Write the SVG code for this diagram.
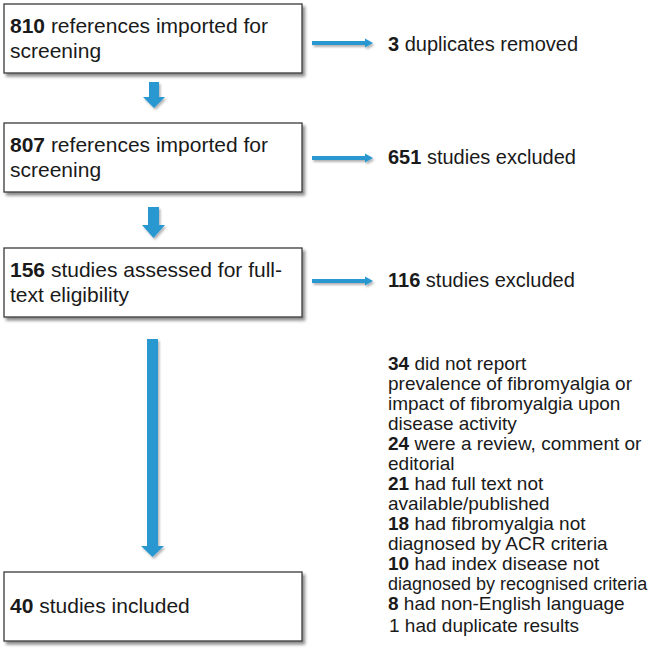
<svg xmlns="http://www.w3.org/2000/svg" width="652" height="653" viewBox="0 0 652 653">
<defs>
<filter id="sh" x="-5%" y="-10%" width="115%" height="130%">
<feDropShadow dx="2.5" dy="3" stdDeviation="1.5" flood-color="#000" flood-opacity="0.45"/>
</filter>
<filter id="ash" x="-30%" y="-30%" width="160%" height="160%">
<feDropShadow dx="1.5" dy="2" stdDeviation="1.2" flood-color="#000" flood-opacity="0.3"/>
</filter>
<style>
.box{fill:#fff;stroke:#3a3a3a;stroke-width:1.3;filter:url(#sh)}
.t{font-family:"Liberation Sans",Arial,sans-serif;font-size:20px;fill:#1a1a1a}
.bt{font-size:21px}
.l{font-family:"Liberation Sans",Arial,sans-serif;font-size:19px;fill:#1a1a1a}
.s{font-size:18px}
.b{font-weight:bold}
.arr{fill:#2a98d0;filter:url(#ash)}
</style>
</defs>
<g id="connectors">
<polygon class="arr" points="149,82 159,82 159,97 165,97 154,108 143,97 149,97"/>
<polygon class="arr" points="148,207 159,207 159,225 165,225 153.5,238 142,225 148,225"/>
<polygon class="arr" points="147,339 158,339 158,546 164,546 152.5,557 141,546 147,546"/>
<polygon class="arr" points="312,41 365,41 365,38.5 373,43 365,47.5 365,45 312,45"/>
<polygon class="arr" points="312,156 365,156 365,153.5 373,158 365,162.5 365,160 312,160"/>
<polygon class="arr" points="312,279 365,279 365,276.5 373,281 365,285.5 365,283 312,283"/>
</g>
<g id="n1">
<rect class="box" x="4" y="4" width="298" height="69"/>
<text class="t bt" x="10" y="33"><tspan class="b">810</tspan> references imported for</text>
<text class="t bt" x="10" y="58">screening</text>
</g>
<g id="n2">
<rect class="box" x="4" y="123" width="298" height="69"/>
<text class="t bt" x="10" y="152"><tspan class="b">807</tspan> references imported for</text>
<text class="t bt" x="10" y="177">screening</text>
</g>
<g id="n3">
<rect class="box" x="4" y="248" width="298" height="69"/>
<text class="t bt" x="10" y="277"><tspan class="b">156</tspan> studies assessed for full-</text>
<text class="t bt" x="10" y="302">text eligibility</text>
</g>
<g id="n4">
<rect class="box" x="4" y="572" width="298" height="69"/>
<text class="t bt" x="10" y="613"><tspan class="b">40</tspan> studies included</text>
</g>
<g id="r1">
<text class="t" x="388" y="51"><tspan class="b">3</tspan> duplicates removed</text>
</g>
<g id="r2">
<text class="t" x="388" y="164"><tspan class="b">651</tspan> studies excluded</text>
</g>
<g id="r3">
<text class="t" x="388" y="287"><tspan class="b">116</tspan> studies excluded</text>
</g>
<g id="r4">
<text class="l" x="388" y="370"><tspan class="b">34</tspan> did not report</text>
<text class="l" x="388" y="390">prevalence of fibromyalgia or</text>
<text class="l" x="388" y="410">impact of fibromyalgia upon</text>
<text class="l" x="388" y="430">disease activity</text>
<text class="l" x="388" y="450"><tspan class="b">24</tspan> were a review, comment or</text>
<text class="l" x="388" y="470">editorial</text>
<text class="l" x="388" y="490"><tspan class="b">21</tspan> had full text not</text>
<text class="l" x="388" y="510">available/published</text>
<text class="l" x="388" y="530"><tspan class="b">18</tspan> had fibromyalgia not</text>
<text class="l" x="388" y="550">diagnosed by ACR criteria</text>
<text class="l" x="388" y="570"><tspan class="b">10</tspan> had index disease not</text>
<text class="l s" x="388" y="590">diagnosed by recognised criteria</text>
<text class="l" x="388" y="610"><tspan class="b">8</tspan> had non-English language</text>
<text class="l" x="389" y="632">1 had duplicate results</text>
</g>
</svg>
